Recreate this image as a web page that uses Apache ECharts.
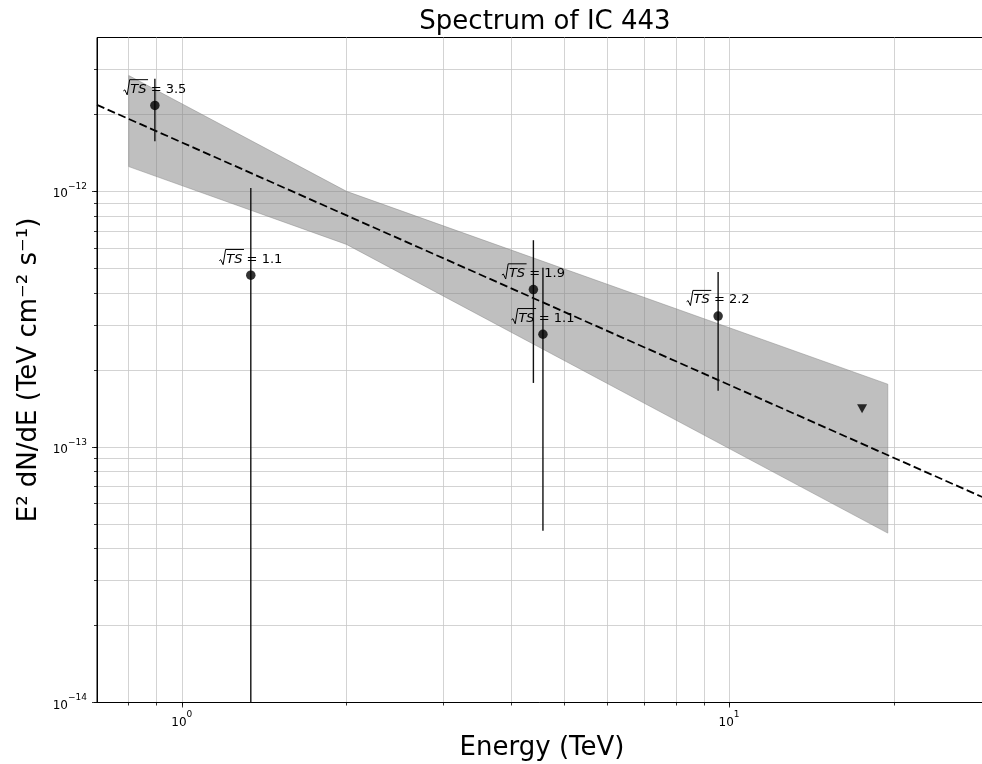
<!DOCTYPE html>
<html><head><meta charset="utf-8">
<script src="https://cdn.jsdelivr.net/npm/echarts@6.0.0/dist/echarts.min.js"></script>
<style>html,body{margin:0;padding:0;background:#fff}#c{width:982px;height:764px}</style>
</head><body><div id="c"></div>
<script>
// ---- data ----
const energies = [0.893, 1.337, 4.39, 4.57, 9.55];
const fluxes   = [2.17e-12, 4.7e-13, 4.13e-13, 2.76e-13, 3.25e-13];
const errLow   = [1.57e-12, 5e-15, 1.78e-13, 4.7e-14, 1.66e-13];
const errHigh  = [2.76e-12, 1.03e-12, 6.44e-13, 5.02e-13, 4.84e-13];
const sqrtTS   = ['3.5', '1.1', '1.9', '1.1', '2.2'];
const ulEnergy = [17.5];
const ulFlux   = [1.41e-13];
const bandEnergy = [0.8, 2.0, 19.5];
const bandUpper  = [2.84e-12, 1.0e-12, 1.76e-13];
const bandLower  = [1.25e-12, 6.2e-13, 4.6e-14];
const modelEnergy = [0.7, 29.6];
const modelFlux   = [2.18e-12, 6.25e-14];
const xMajorTicks = [1, 10];
const xTickExponents = ['0', '1'];
const xMinorTicks = [0.8, 0.9, 2, 3, 4, 5, 6, 7, 8, 9, 20];
const yMajorTicks = [1e-14, 1e-13, 1e-12];
const yTickExponents = ['\u221214', '\u221213', '\u221212'];
const yMinorTicks = [2e-14, 3e-14, 4e-14, 5e-14, 6e-14, 7e-14, 8e-14, 9e-14,
                     2e-13, 3e-13, 4e-13, 5e-13, 6e-13, 7e-13, 8e-13, 9e-13,
                     2e-12, 3e-12];
const xRange = [0.7, 29.6];
const yRange = [1e-14, 4e-12];

// ---- chart ----
const FONT = 'DejaVu Sans';
const chart = echarts.init(document.getElementById('c'), null, {renderer: 'canvas'});
const gridColor = '#c8c8c8';
const LABEL_FS = 13;
const mctx = document.createElement('canvas').getContext('2d');
function measure(text, font) { mctx.font = font; return mctx.measureText(text).width; }

function labelFor(values, exps) {
  return function (v) {
    for (let i = 0; i < values.length; i++) {
      if (Math.abs(Math.log10(v) - Math.log10(values[i])) < 1e-6) return '{b|10}{s|' + exps[i] + '}';
    }
    return '';
  };
}
const tickRich = {
  b: {fontFamily: FONT, fontSize: 12, color: '#000', lineHeight: 18, verticalAlign: 'bottom'},
  s: {fontFamily: FONT, fontSize: 9, color: '#000', lineHeight: 10, verticalAlign: 'top'}
};

const option = {
  animation: false,
  backgroundColor: '#fff',
  title: {
    text: 'Spectrum of IC 443',
    left: 540, top: 4, textAlign: 'center',
    textStyle: {fontFamily: FONT, fontSize: 26, fontWeight: 'normal', color: '#000'}
  },
  grid: {left: 97, top: 37.5, width: 890, height: 665, show: true, outerBoundsMode: 'none',
         borderColor: '#000', borderWidth: 1, backgroundColor: 'transparent', containLabel: false},
  xAxis: [
    {
      type: 'log', logBase: 10, min: xRange[0], max: xRange[1], position: 'bottom',
      axisLine: {show: true, lineStyle: {color: '#000', width: 1}},
      axisTick: {show: true, length: 3, customValues: xMajorTicks.concat(xMinorTicks),
                 lineStyle: {color: '#000', width: 0.8}},
      axisLabel: {show: false},
      splitLine: {show: true, lineStyle: {color: gridColor, width: 0.8}},
      minorTick: {show: false}, minorSplitLine: {show: false},
      name: 'Energy (TeV)', nameLocation: 'middle', nameGap: 33,
      nameTextStyle: {fontFamily: FONT, fontSize: 26, color: '#000'}
    },
    {
      type: 'log', logBase: 10, min: xRange[0], max: xRange[1], position: 'bottom',
      axisLine: {show: false},
      axisTick: {show: true, length: 5, customValues: xMajorTicks, lineStyle: {color: '#000', width: 0.8}},
      axisLabel: {show: true, customValues: xMajorTicks, margin: 8,
                  formatter: labelFor(xMajorTicks, xTickExponents), rich: tickRich},
      splitLine: {show: false}
    }
  ],
  yAxis: [
    {
      type: 'log', logBase: 10, min: yRange[0], max: yRange[1], position: 'left',
      axisLine: {show: true, lineStyle: {color: '#000', width: 1}},
      axisTick: {show: true, length: 3, customValues: yMajorTicks.concat(yMinorTicks),
                 lineStyle: {color: '#000', width: 0.8}},
      axisLabel: {show: false},
      splitLine: {show: true, lineStyle: {color: gridColor, width: 0.8}},
      minorTick: {show: false}, minorSplitLine: {show: false},
      name: 'E\u00b2 dN/dE (TeV cm\u207b\u00b2 s\u207b\u00b9)', nameLocation: 'middle', nameGap: 55,
      nameTextStyle: {fontFamily: FONT, fontSize: 26, color: '#000'}
    },
    {
      type: 'log', logBase: 10, min: yRange[0], max: yRange[1], position: 'left',
      axisLine: {show: false},
      axisTick: {show: true, length: 5, customValues: yMajorTicks, lineStyle: {color: '#000', width: 0.8}},
      axisLabel: {show: true, customValues: yMajorTicks, margin: 10,
                  formatter: labelFor(yMajorTicks, yTickExponents), rich: tickRich},
      splitLine: {show: false}
    }
  ],
  series: [
    {
      type: 'custom', name: 'band', xAxisIndex: 0, yAxisIndex: 0, silent: true, z: 1,
      data: [[bandEnergy[0], bandUpper[0]]],
      renderItem: function (params, api) {
        const pts = [];
        for (let i = 0; i < bandEnergy.length; i++) pts.push(api.coord([bandEnergy[i], bandUpper[i]]));
        for (let i = bandEnergy.length - 1; i >= 0; i--) pts.push(api.coord([bandEnergy[i], bandLower[i]]));
        return {type: 'polygon', shape: {points: pts},
                style: {fill: 'rgba(128,128,128,0.5)', stroke: 'rgba(128,128,128,0.45)', lineWidth: 1}};
      }
    },
    {
      type: 'line', name: 'model', xAxisIndex: 0, yAxisIndex: 0, z: 3, silent: true,
      data: modelEnergy.map((e, i) => [e, modelFlux[i]]),
      symbol: 'none', showSymbol: false,
      lineStyle: {color: '#000', width: 1.8, type: [8, 3.6]}
    },
    {
      type: 'custom', name: 'errors', xAxisIndex: 0, yAxisIndex: 0, z: 4, silent: true,
      data: energies.map((e, i) => [e, errLow[i], errHigh[i]]),
      encode: {x: 0, y: [1, 2]},
      renderItem: function (params, api) {
        const x = api.value(0);
        const p1 = api.coord([x, api.value(1)]);
        const p2 = api.coord([x, api.value(2)]);
        const cs = params.coordSys;
        const clamp = y => Math.max(cs.y, Math.min(cs.y + cs.height, y));
        return {type: 'line', shape: {x1: p1[0], y1: clamp(p1[1]), x2: p2[0], y2: clamp(p2[1])},
                style: {stroke: '#111', lineWidth: 1.4}};
      }
    },
    {
      type: 'scatter', name: 'points', xAxisIndex: 0, yAxisIndex: 0, z: 5, silent: true,
      data: energies.map((e, i) => [e, fluxes[i]]),
      symbol: 'circle', symbolSize: 9.5,
      itemStyle: {color: '#000'}
    },
    {
      type: 'custom', name: 'TS labels', xAxisIndex: 0, yAxisIndex: 0, z: 6, silent: true,
      data: energies.map((e, i) => [e, fluxes[i]]),
      renderItem: function (params, api) {
        const c = api.coord([api.value(0), api.value(1)]);
        const fontR = LABEL_FS + 'px "' + FONT + '"';
        const fontI = 'italic ' + LABEL_FS + 'px "' + FONT + '"';
        const rest = ' = ' + sqrtTS[params.dataIndex];
        const wRad = 7;
        const wTS = measure('TS', fontI);
        const wRest = measure(rest, fontR);
        const W = wRad + wTS + wRest;
        const x0 = c[0] - W / 2;
        const ym = c[1] - 16;
        const yOver = ym - 9.7;
        return {
          type: 'group',
          children: [
            {type: 'polyline', shape: {points: [[x0, ym + 1.5], [x0 + 1.5, ym + 0.5], [x0 + 3.8, ym + 5.5],
                                                 [x0 + 6.3, yOver], [x0 + wRad + wTS + 1.5, yOver]]},
             style: {stroke: '#000', fill: null, lineWidth: 1, lineJoin: 'miter'}},
            {type: 'text', style: {text: 'TS', x: x0 + wRad, y: ym, font: fontI, fill: '#000',
                                   align: 'left', verticalAlign: 'middle', textAlign: 'left', textVerticalAlign: 'middle'}},
            {type: 'text', style: {text: rest, x: x0 + wRad + wTS, y: ym, font: fontR, fill: '#000',
                                   align: 'left', verticalAlign: 'middle', textAlign: 'left', textVerticalAlign: 'middle'}}
          ]
        };
      }
    },
    {
      type: 'scatter', name: 'upper limit', xAxisIndex: 0, yAxisIndex: 0, z: 5, silent: true,
      data: ulEnergy.map((e, i) => [e, ulFlux[i]]),
      symbol: 'triangle', symbolRotate: 180, symbolSize: [10, 9],
      itemStyle: {color: '#000'}
    }
  ]
};
chart.setOption(option);
</script>
</body></html>
